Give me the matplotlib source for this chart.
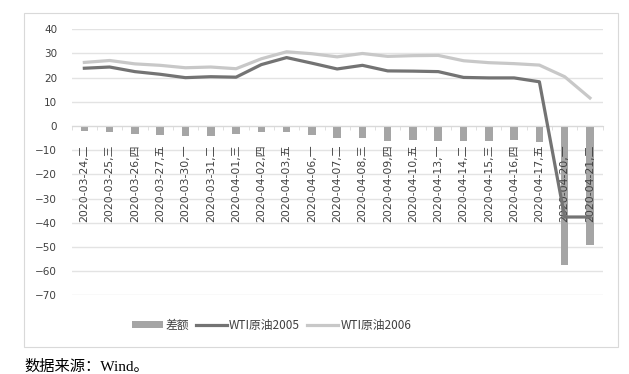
import numpy as np
import matplotlib
matplotlib.use("Agg")
import matplotlib.pyplot as plt
from matplotlib.patches import Rectangle, Patch
from matplotlib.lines import Line2D

plt.rcParams['font.family'] = ['Noto Sans CJK SC', 'DejaVu Sans']
label_font = ['DejaVu Sans', 'Noto Sans CJK SC']

# data
dates = ['2020-03-24,二', '2020-03-25,三', '2020-03-26,四', '2020-03-27,五',
         '2020-03-30,一', '2020-03-31,二', '2020-04-01,三', '2020-04-02,四',
         '2020-04-03,五', '2020-04-06,一', '2020-04-07,二', '2020-04-08,三',
         '2020-04-09,四', '2020-04-10,五', '2020-04-13,一', '2020-04-14,二',
         '2020-04-15,三', '2020-04-16,四', '2020-04-17,五', '2020-04-20,一',
         '2020-04-21,二']
wti_2005 = [23.9, 24.4, 22.5, 21.4, 20.0, 20.4, 20.2, 25.4, 28.3, 26.0, 23.6,
            25.1, 22.8, 22.7, 22.5, 20.1, 19.9, 19.9, 18.3, -37.6, -37.6]
wti_2006 = [26.3, 27.1, 25.7, 25.1, 24.1, 24.4, 23.7, 27.8, 30.7, 29.9, 28.6,
            30.0, 28.8, 29.1, 29.2, 27.0, 26.2, 25.8, 25.2, 20.4, 11.6]
spread = [-2.2, -2.6, -3.1, -3.5, -4.0, -4.0, -3.3, -2.6, -2.4, -3.9, -4.8,
          -5.0, -6.1, -5.9, -6.0, -6.2, -6.1, -5.9, -6.4, -57.6, -49.0]

bar_color = '#A5A5A5'
dark = '#737373'
light = '#C8C8C8'
grid_color = '#E3E3E3'

fig = plt.figure(figsize=(6.29, 3.74), dpi=100)

# outer chart frame
fig.patches.append(Rectangle((24 / 629, 1 - 347 / 374), 594 / 629, 334 / 374,
                             transform=fig.transFigure, fill=False,
                             edgecolor='#D9D9D9', linewidth=0.8))

ax = fig.add_axes([0.114, 0.2102, 0.844, 0.7115])
x = np.arange(len(dates))

ax.bar(x, spread, width=0.3, color=bar_color, zorder=1)
ax.plot(x, wti_2005, color=dark, linewidth=2.3, zorder=3)
ax.plot(x, wti_2006, color=light, linewidth=2.3, zorder=3)

ax.set_xlim(-0.5, len(dates) - 0.5)
ax.set_ylim(-70, 40)
ax.set_yticks(range(-70, 41, 10))
ax.yaxis.grid(True, color=grid_color, linewidth=1)
ax.set_axisbelow(True)
ax.tick_params(axis='y', length=0, pad=10.5, labelcolor='#404040')
for lbl in ax.get_yticklabels():
    lbl.set_fontfamily(label_font)
    lbl.set_fontsize(7.5)

for s in ['top', 'right', 'left']:
    ax.spines[s].set_visible(False)
ax.spines['bottom'].set_position(('data', 0))
ax.spines['bottom'].set_color('#D9D9D9')

# category labels sit under the zero line, above the bars
ax.set_xticks(x)
ax.set_xticklabels([])
ax.tick_params(axis='x', length=0)
ax.set_xticks(np.arange(-0.5, len(dates), 1), minor=True)
ax.tick_params(axis='x', which='minor', length=3, color='#D9D9D9', direction='out')
for i, lbl in enumerate(dates):
    ax.annotate(lbl, (i, 0), xytext=(0, -13), textcoords='offset points',
                rotation=90, ha='center', va='top', fontsize=7.8,
                family=label_font, color='#404040', zorder=2)

handles = [Patch(facecolor=bar_color, edgecolor='none'),
           Line2D([], [], color=dark, linewidth=2.3),
           Line2D([], [], color=light, linewidth=2.3)]
fig.legend(handles, ['差额', 'WTI原油2005', 'WTI原油2006'], ncol=3,
           loc='center', bbox_to_anchor=(0.432, 0.131), frameon=False,
           fontsize=8.5, handlelength=2.6, handleheight=0.5, columnspacing=0.6,
           handletextpad=0.2, labelcolor='#404040')

fig.text(24 / 629, 1 - 367 / 374, '数据来源：Wind。', fontsize=11,
         family=['Liberation Serif', 'Noto Sans CJK SC'], va='center')

fig.savefig('out.png', dpi=100)
